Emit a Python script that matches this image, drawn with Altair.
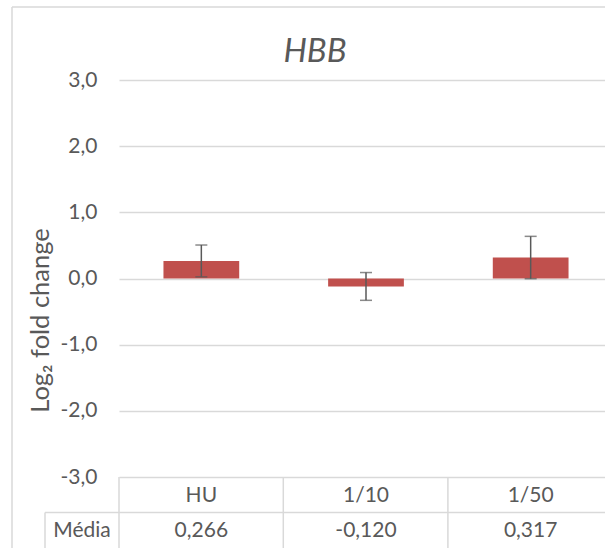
import altair as alt
import pandas as pd

# Gene expression summary for HBB
categories = ["HU", "1/10", "1/50"]
means = [0.266, -0.120, 0.317]
errors = [0.24, 0.21, 0.32]

FONT = "Lato"
TEXT = "#595959"
GRID = "#D9D9D9"
BAR = "#C0504D"
LABEL_SIZE = 21

df = pd.DataFrame({"cat": categories, "mean": means, "err": errors})
df["lo"] = df["mean"] - df["err"]
df["hi"] = df["mean"] + df["err"]
df["label"] = [f"{v:.3f}".replace(".", ",") for v in means]

x_enc = alt.X(
    "cat:N",
    sort=categories,
    axis=None,
    scale=alt.Scale(range=[0, 494], paddingInner=0.54, paddingOuter=0.27),
)

y_label_expr = (
    "(datum.value < 0 ? '-' : '') + "
    "replace(format(abs(datum.value), '.1f'), '.', ',')"
)

bars = alt.Chart(df).mark_bar(color=BAR).encode(
    x=x_enc,
    y=alt.Y(
        "mean:Q",
        scale=alt.Scale(domain=[-3, 3], nice=False, zero=False),
        axis=alt.Axis(
            values=[-3, -2, -1, 0, 1, 2, 3],
            labelExpr=y_label_expr,
            title="Log₂ fold change",
            titleAngle=270,
            titleX=-79,
            titleY=240,
            titleAlign="center",
            titleBaseline="middle",
            titleFont=FONT,
            titleFontSize=25.5,
            titleFontWeight="normal",
            titleColor=TEXT,
            labelFont=FONT,
            labelFontSize=LABEL_SIZE,
            labelColor=TEXT,
            labelPadding=22,
            ticks=False,
            domain=False,
            grid=True,
            gridColor=GRID,
            gridWidth=1.3,
        ),
    ),
)

err_rule = alt.Chart(df).mark_rule(color=TEXT, strokeWidth=1.5).encode(
    x=x_enc, y="lo:Q", y2="hi:Q"
)
cap_lo = alt.Chart(df).mark_tick(color=TEXT, size=12, thickness=1.5).encode(
    x=x_enc, y="lo:Q"
)
cap_hi = alt.Chart(df).mark_tick(color=TEXT, size=12, thickness=1.5).encode(
    x=x_enc, y="hi:Q"
)

# Data table under the plot
header = alt.Chart(df).mark_text(
    font=FONT, fontSize=LABEL_SIZE, color=TEXT, baseline="middle"
).encode(x=x_enc, y=alt.value(416), text="cat:N")
values = alt.Chart(df).mark_text(
    font=FONT, fontSize=LABEL_SIZE, color=TEXT, baseline="middle"
).encode(x=x_enc, y=alt.value(451), text="label:N")
row_name = alt.Chart(pd.DataFrame({"t": ["Média"]})).mark_text(
    font=FONT, fontSize=LABEL_SIZE, color=TEXT, baseline="middle", align="center"
).encode(x=alt.value(-37), y=alt.value(451), text="t:N")

line_style = dict(color=GRID, strokeWidth=1.5)
h_rows = alt.Chart(pd.DataFrame({"a": [0]})).mark_rule(**line_style).encode(
    x=alt.value(-74), x2=alt.value(486), y=alt.value(432.5)
)
v_cols = alt.Chart(pd.DataFrame({"xv": [0, 164.3, 328.9]})).mark_rule(**line_style).encode(
    x=alt.X("xv:Q", scale=None), y=alt.value(397), y2=alt.value(470)
)
v_name = alt.Chart(pd.DataFrame({"a": [0]})).mark_rule(**line_style).encode(
    x=alt.value(-74), y=alt.value(432.5), y2=alt.value(470)
)

# Chart-area border (left and top edges)
border_left = alt.Chart(pd.DataFrame({"a": [0]})).mark_rule(**line_style).encode(
    x=alt.value(-107), y=alt.value(-73), y2=alt.value(470)
)
border_top = alt.Chart(pd.DataFrame({"a": [0]})).mark_rule(**line_style).encode(
    x=alt.value(-107), x2=alt.value(490), y=alt.value(-73)
)

title = alt.Chart(pd.DataFrame({"t": ["HBB"]})).mark_text(
    font=FONT, fontSize=33, fontStyle="italic", color=TEXT,
    baseline="middle", align="center",
).encode(x=alt.value(196), y=alt.value(-28), text="t:N")

chart = alt.layer(
    bars, err_rule, cap_lo, cap_hi,
    header, values, row_name,
    h_rows, v_cols, v_name,
    border_left, border_top, title,
).properties(
    width=486,
    height=397,
    padding={"left": 119, "top": 80, "right": 0, "bottom": 71},
    autosize=alt.AutoSizeParams(type="none"),
    background="white",
).configure_view(strokeWidth=0)

chart.save("out.html", embed_options={"renderer": "svg", "actions": False})
